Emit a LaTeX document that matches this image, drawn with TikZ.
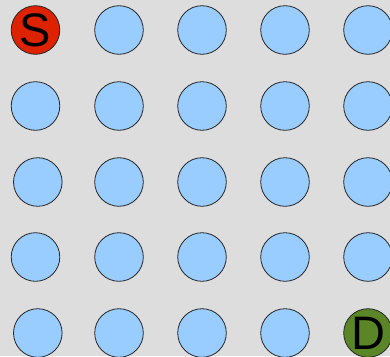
\documentclass[tikz,border=0pt]{standalone}
\usepackage{fontspec}
\setmainfont{Liberation Sans}
\definecolor{bgc}{HTML}{DDDDDD}
\definecolor{cellc}{HTML}{99CCFF}
\definecolor{srcc}{HTML}{DD2200}
\definecolor{dstc}{HTML}{5B8628}
\begin{document}
\begin{tikzpicture}[x=1pt,y=-1pt,
  cell/.style={circle,draw=black!85,line width=0.8pt,fill=cellc,minimum size=48.6pt,inner sep=0pt,
    font=\fontsize{47}{47}\selectfont,text depth=0pt},
  src/.style={cell,fill=srcc},
  dst/.style={cell,fill=dstc}]
\fill[bgc] (0,0) rectangle (390,356);
\useasboundingbox (0,0) rectangle (390,356);
% row 1
\node[src]  (n11) at (35.5,30) {S};
\node[cell] (n12) at (119,30) {};
\node[cell] (n13) at (202,30) {};
\node[cell] (n14) at (285,30) {};
\node[cell] (n15) at (368,30) {};
% row 2
\node[cell] (n21) at (35.5,106) {};
\node[cell] (n22) at (119,106) {};
\node[cell] (n23) at (202,106) {};
\node[cell] (n24) at (285,106) {};
\node[cell] (n25) at (368,106) {};
% row 3
\node[cell] (n31) at (37.8,182) {};
\node[cell] (n32) at (119,182) {};
\node[cell] (n33) at (202,182) {};
\node[cell] (n34) at (285,182) {};
\node[cell] (n35) at (368,182) {};
% row 4
\node[cell] (n41) at (35.5,257) {};
\node[cell] (n42) at (119,257) {};
\node[cell] (n43) at (202,257) {};
\node[cell] (n44) at (285,257) {};
\node[cell] (n45) at (368,257) {};
% row 5
\node[cell] (n51) at (37.8,333) {};
\node[cell] (n52) at (119,333) {};
\node[cell] (n53) at (202,333) {};
\node[cell] (n54) at (285,333) {};
\node[dst]  (n55) at (368,333) {D};
\end{tikzpicture}
\end{document}
